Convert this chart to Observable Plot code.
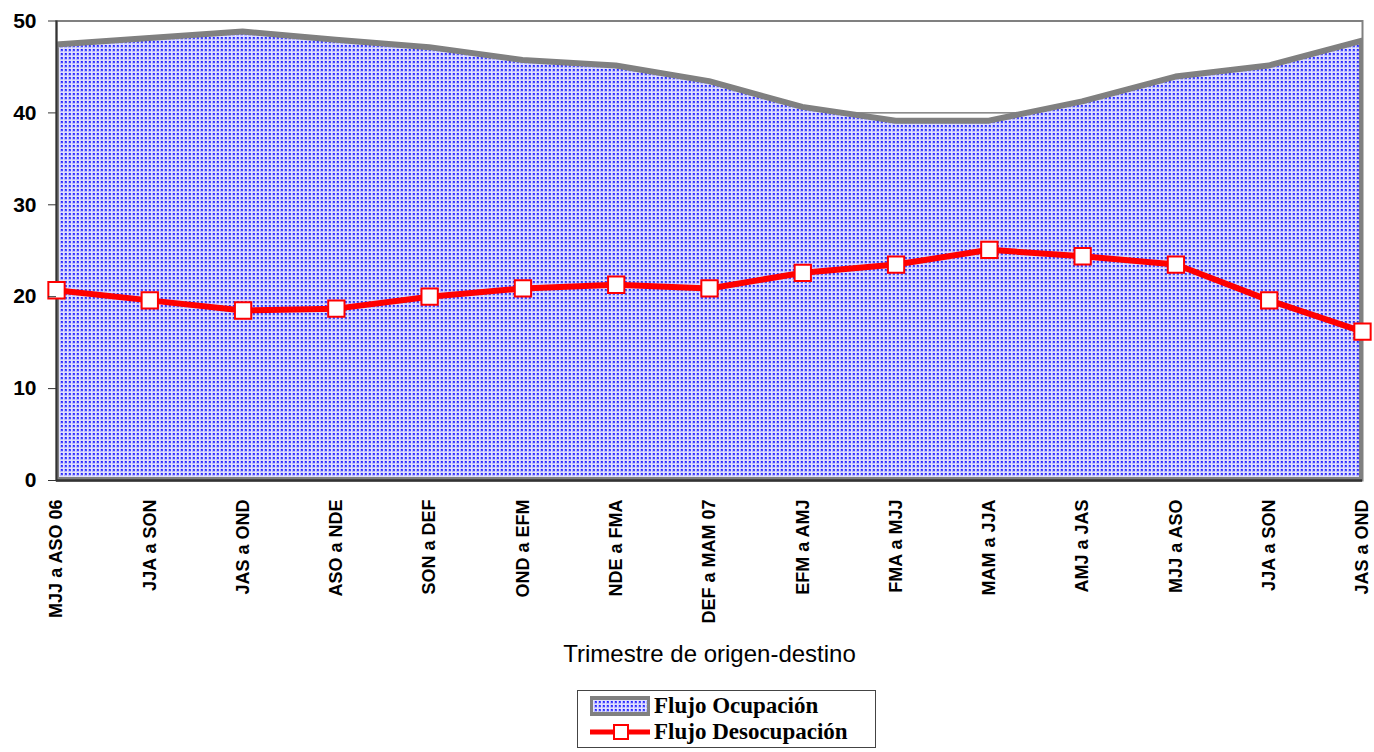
<!DOCTYPE html>
<html>
<head>
<meta charset="utf-8">
<script src="https://cdn.jsdelivr.net/npm/d3@7"></script>
<script src="https://cdn.jsdelivr.net/npm/@observablehq/plot@0.6"></script>
<style>
  body { margin: 0; background: #fff; }
  #wrap { position: relative; width: 1374px; height: 752px; }
  #legend {
    position: absolute; left: 577px; top: 690px; width: 299px; height: 58px;
    border: 1px solid #444; box-sizing: border-box; background: #fff;
    font-family: "Liberation Serif", "Times New Roman", serif; font-weight: bold; font-size: 23px; color: #000;
  }
  #legend .item { position: absolute; left: 12px; height: 25px; display: flex; align-items: center; }
  #legend svg { display: block; margin-right: 4px; }
  #legend span { line-height: 25px; white-space: nowrap; }
</style>
</head>
<body>
<div id="wrap">
  <div id="chart"></div>
  <div id="legend"></div>
</div>
<script>
// ---- data ----
const categories = [
  "MJJ a ASO 06", "JJA a SON", "JAS a OND", "ASO a NDE", "SON a DEF",
  "OND a EFM", "NDE a FMA", "DEF a MAM 07", "EFM a AMJ", "FMA a MJJ",
  "MAM a JJA", "AMJ a JAS", "MJJ a ASO", "JJA a SON", "JAS a OND"
];
const ocupacion = [47.4, 48.1, 48.8, 47.9, 47.1, 45.7, 45.1, 43.4, 40.6, 39.1, 39.1, 41.2, 43.9, 45.1, 47.8];
const desocupacion = [20.7, 19.6, 18.5, 18.7, 20.0, 20.9, 21.3, 20.9, 22.6, 23.5, 25.1, 24.4, 23.5, 19.6, 16.2];
const yTicks = [0, 10, 20, 30, 40, 50];
const gridValues = [10, 20, 30, 40];
const xTitle = "Trimestre de origen-destino";
const seriesNames = ["Flujo Ocupación", "Flujo Desocupación"];

// ---- table built from the arrays ----
const rows = categories.map((c, i) => ({i, c, ocup: ocupacion[i], desoc: desocupacion[i]}));

const sans = "'Liberation Sans', Arial, sans-serif";
const H = 688;

const chart = Plot.plot({
  width: 1374,
  height: H,
  marginLeft: 56,
  marginRight: 12,
  marginTop: 20.5,
  marginBottom: H - 480,
  style: {fontFamily: sans, color: "#000", background: "#fff", overflow: "visible"},
  x: {type: "linear", domain: [0, categories.length - 1]},
  y: {domain: [0, 50]},
  marks: [
    Plot.frame({stroke: "#808080", strokeWidth: 2}),
    Plot.ruleY(gridValues, {stroke: "#444", strokeWidth: 1}),
    Plot.areaY(rows, {x: "i", y: "ocup", fill: "url(#dots)", stroke: "#808080", strokeWidth: 6, clip: true}),
    Plot.ruleX([0], {stroke: "#333", strokeWidth: 2}),
    Plot.ruleY([0], {stroke: "#333", strokeWidth: 2.5}),
    Plot.line(rows, {x: "i", y: "desoc", stroke: "#ff0000", strokeWidth: 6}),
    Plot.dot(rows, {x: "i", y: "desoc", symbol: "square", r: 9.2, fill: "#fff", stroke: "#ff0000", strokeWidth: 2}),
    Plot.axisY({ticks: yTicks, tickSize: 8, tickPadding: 12, fontSize: 21, fontWeight: "bold", label: null, stroke: "#333"}),
    Plot.axisX({ticks: d3.range(categories.length), tickFormat: i => categories[i], tickRotate: -90,
                tickSize: 0, tickPadding: 19, fontSize: 18, fontWeight: "bold", label: null}),
    Plot.text([xTitle], {frameAnchor: "bottom", dy: 181, fontSize: 24, fontFamily: sans, fill: "#000"})
  ]
});

// pattern definition for the dotted fill
const ns = "http://www.w3.org/2000/svg";
function makePattern(id) {
  const p = document.createElementNS(ns, "pattern");
  p.setAttribute("id", id);
  p.setAttribute("patternUnits", "userSpaceOnUse");
  p.setAttribute("width", 4);
  p.setAttribute("height", 4);
  const parts = [
    [0, 0, 4, 4, "#b8b8ff"],
    [0, 0, 4, 1, "#dedeff"],
    [3, 0, 1, 4, "#e2e2ff"],
    [1, 1, 2, 2, "#4848ff"],
    [1, 1, 1, 1, "#2020ff"]
  ];
  for (const [x, y, w, h, f] of parts) {
    const r = document.createElementNS(ns, "rect");
    r.setAttribute("x", x); r.setAttribute("y", y);
    r.setAttribute("width", w); r.setAttribute("height", h);
    r.setAttribute("fill", f);
    p.appendChild(r);
  }
  return p;
}
const defs = document.createElementNS(ns, "defs");
defs.appendChild(makePattern("dots"));
chart.insertBefore(defs, chart.firstChild);
document.getElementById("chart").appendChild(chart);

// legend
const legend = document.getElementById("legend");
legend.innerHTML = `
  <div class="item" style="top:2px">
    <svg width="60" height="20">
      <defs></defs>
      <rect x="0" y="0" width="60" height="20" fill="#808080"/>
      <rect x="3" y="4" width="54" height="12" fill="url(#dotsL)"/>
    </svg><span>${seriesNames[0]}</span>
  </div>
  <div class="item" style="top:28px">
    <svg width="60" height="20">
      <line x1="0" x2="60" y1="10" y2="10" stroke="#ff0000" stroke-width="5"/>
      <rect x="24" y="3" width="14" height="14" fill="#fff" stroke="#ff0000" stroke-width="2"/>
    </svg><span>${seriesNames[1]}</span>
  </div>`;
legend.querySelector("defs").appendChild(makePattern("dotsL"));
</script>
</body>
</html>
